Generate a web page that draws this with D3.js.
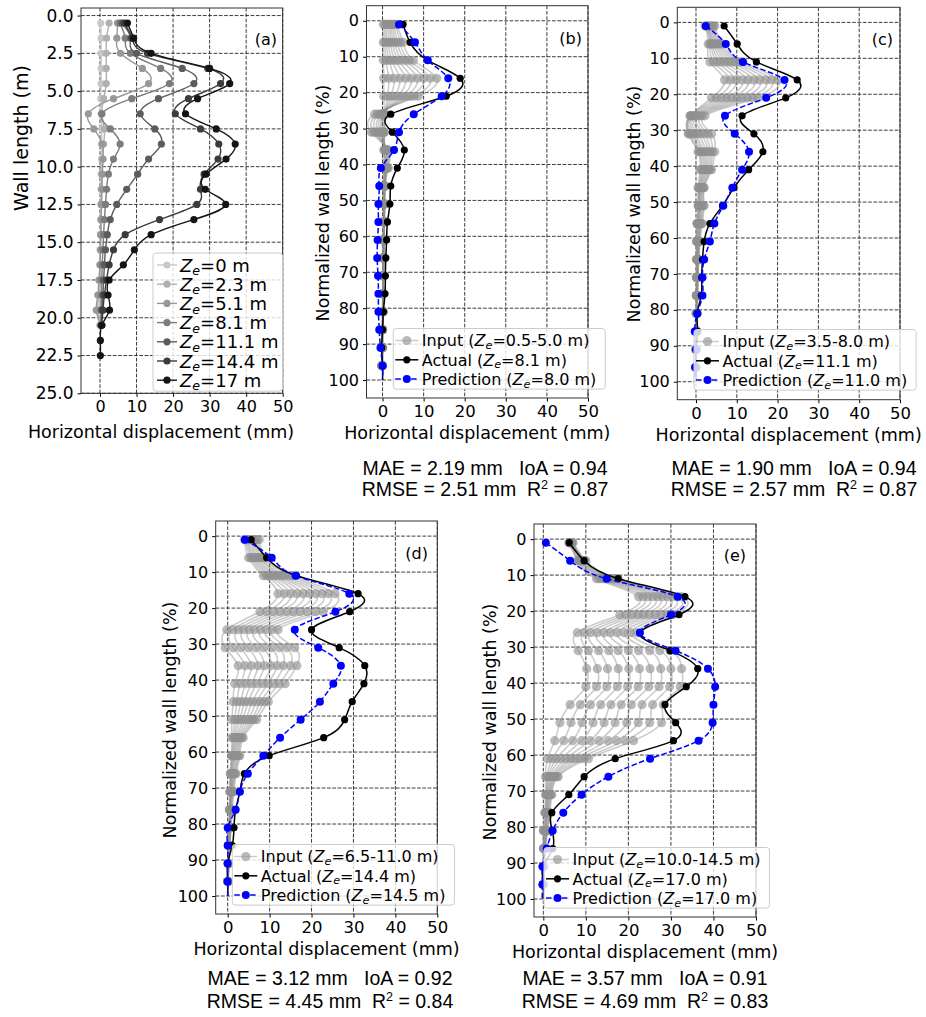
<!DOCTYPE html>
<html><head><meta charset="utf-8">
<script src="https://cdn.jsdelivr.net/npm/d3@7"></script>
<style>body{margin:0;background:#fff}svg{display:block}</style>
</head><body>
<svg id="chart" width="926" height="1017"></svg>
<script>
// ---------------- DATA ----------------
// Panel (a): wall depth (m) and displacement (mm) per excavation stage
const wallDepth = [0.5,1.5,2.5,3.5,4.5,5.5,6.5,7.5,8.5,9.5,10.5,11.5,12.5,13.5,14.5,15.5,16.5,17.5,18.5,19.5,20.5,21.5,22.5];
const stageZe = ["0","2.3","5.1","8.1","11.1","14.4","17"];
const dispZe0   = [0.2,0.3,0.3,0.3,0.3,0.2,0.3,0.5,0.4,0.4,0.3,0.3,0.2,0.2,0.2,0.1,0.1,0.0,0.0,0.0,0.0];
const dispZe2_3 = [2.5,1.8,1.7,1.7,1.7,1.0,0.5,1.2,1.0,0.8,0.6,0.5,0.4,0.3,0.2,0.1,0.0,-0.2,-0.4,-0.6,0.0];
const dispZe5_1 = [4.8,4.6,5.6,11.6,13.3,3.7,-3.2,-1.7,0.6,0.8,0.6,0.5,0.4,0.3,0.2,0.1,0.0,-0.3,-0.6,-1.0,0.2];
const dispZe8_1 = [5.4,6.9,8.3,16.6,19.0,8.7,0.5,2.8,5.5,3.7,2.3,1.8,1.5,1.2,1.0,0.8,0.6,0.5,0.4,0.3,0.3];
const dispZe11_1= [6.0,8.4,10.0,22.5,25.7,16.0,11.0,15.0,16.8,13.3,10.3,7.3,4.6,2.8,2.0,1.5,1.2,1.0,0.8,0.5,0.3];
const dispZe14_4= [6.6,8.8,13.0,29.5,33.0,24.2,20.6,27.5,32.5,32.3,28.5,27.5,26.5,16.3,6.9,3.7,2.5,1.8,1.2,0.8,0.5];
const dispZe17  = [7.5,9.2,14.0,30.0,35.5,26.7,23.4,31.8,37.0,34.5,29.0,28.8,34.4,25.7,14.0,9.4,6.4,2.5,2.2,2.6,0.5,0.1,0.1];
const aXTicks = [0,10,20,30,40,50];
const aYTicks = [0,2.5,5,7.5,10,12.5,15,17.5,20,22.5,25];

// Panels (b)-(e): normalized wall length (%)
const normLength = [1,6,11,16,21,26,31,36,41,46,51,56,61,66,71,76,81,86,91,96];
const tailLength = 100;               // curves of actual/prediction continue to the wall toe
const normXTicks = [0,10,20,30,40,50];
const normYTicks = [0,10,20,30,40,50,60,70,80,90,100];

const inputB = [
 [0.2,0.2,0.2,0.3,0.3,0.5,0.5,0.3,0.3,0.2,0.2,0.2,0.1,0.1,0.1,0.1,0.0,0.0,0.0,0.0],
 [0.6,0.6,0.8,1.5,1.2,0.6,0.4,0.5,0.4,0.3,0.3,0.2,0.2,0.1,0.1,0.1,0.0,0.0,0.0,0.0],
 [0.9,1.0,1.5,2.8,2.0,0.5,0.2,0.6,0.5,0.4,0.3,0.3,0.2,0.2,0.1,0.1,0.1,0.0,0.0,0.0],
 [1.3,1.5,2.2,4.2,2.9,0.3,-0.1,0.7,0.6,0.4,0.4,0.3,0.2,0.2,0.2,0.1,0.1,0.0,0.0,-0.1],
 [1.7,2.0,3.0,5.6,3.8,0.2,-0.4,0.8,0.7,0.5,0.4,0.3,0.3,0.2,0.2,0.1,0.1,0.0,0.0,-0.1],
 [2.0,2.5,3.8,7.0,4.8,0.0,-0.8,0.9,0.8,0.5,0.4,0.4,0.3,0.2,0.2,0.1,0.1,0.0,-0.1,-0.1],
 [2.4,3.0,4.7,8.5,5.7,-0.3,-1.2,1.0,0.9,0.5,0.5,0.4,0.3,0.3,0.2,0.2,0.1,0.0,-0.1,-0.2],
 [2.7,3.6,5.6,10.0,6.7,-0.8,-1.7,1.1,1.1,0.6,0.5,0.4,0.3,0.3,0.2,0.2,0.1,0.0,-0.1,-0.2],
 [3.1,4.3,6.5,11.6,7.7,-1.3,-2.2,1.3,1.2,0.6,0.5,0.4,0.4,0.3,0.2,0.2,0.1,0.0,-0.1,-0.2],
 [3.4,5.0,7.5,13.2,8.7,-1.9,-2.7,1.4,1.4,0.6,0.5,0.5,0.4,0.3,0.2,0.2,0.1,0.0,-0.1,-0.2]];
const actualB = [5.0,6.7,11.0,18.9,15.5,2.0,2.4,5.3,3.6,2.0,1.8,1.2,1.0,0.8,0.7,0.6,0.2,0.0,-0.2,0.0];
const predB   = [4.0,7.9,11.0,16.0,14.4,7.6,4.0,2.8,-0.4,-0.8,-1.0,-1.0,-1.2,-1.3,-1.1,-1.0,-1.0,-0.8,-0.5,0.0];

const inputC = [
 [2.2,3.0,3.4,7.0,3.8,-1.2,-1.9,0.5,1.0,0.5,0.5,0.2,0.1,0.1,0.1,0.1,0.0,0.0,0.0,0.0],
 [2.5,3.4,4.3,8.4,5.0,-1.5,-1.8,0.8,1.3,0.7,0.6,0.3,0.2,0.2,0.1,0.1,0.1,0.0,0.0,0.0],
 [2.7,3.7,5.2,9.8,6.2,-1.3,-1.4,1.2,1.6,0.8,0.7,0.4,0.3,0.2,0.2,0.1,0.1,0.0,0.0,0.0],
 [2.9,4.0,6.1,11.3,7.5,-1.0,-0.9,1.6,1.9,1.0,0.8,0.5,0.4,0.3,0.2,0.2,0.1,0.1,0.0,0.0],
 [3.2,4.3,7.0,12.7,8.7,-0.6,-0.3,2.0,2.2,1.1,1.0,0.7,0.5,0.4,0.3,0.2,0.2,0.1,0.0,0.0],
 [3.4,4.7,7.9,14.2,10.0,-0.2,0.4,2.5,2.5,1.3,1.1,0.8,0.6,0.4,0.3,0.3,0.2,0.1,0.1,0.0],
 [3.7,5.1,8.8,15.6,11.3,0.3,1.2,3.0,2.8,1.5,1.3,1.0,0.7,0.5,0.4,0.3,0.2,0.1,0.1,0.0],
 [4.0,5.5,9.7,17.1,12.6,0.9,2.0,3.5,3.2,1.7,1.5,1.1,0.8,0.6,0.4,0.3,0.2,0.2,0.1,0.0],
 [4.3,5.9,10.6,18.5,13.9,1.5,2.9,4.0,3.5,1.9,1.8,1.3,0.9,0.6,0.5,0.4,0.3,0.2,0.1,0.0],
 [4.6,6.3,11.5,20.0,15.2,2.2,3.8,4.6,3.8,2.0,2.0,1.5,1.0,0.7,0.5,0.4,0.3,0.2,0.1,0.0]];
const actualC = [6.9,10.1,14.8,24.8,22.0,11.3,14.2,16.4,12.9,9.3,6.5,3.4,2.0,1.6,1.4,1.3,0.3,0.4,0.0,0.0];
const predC   = [2.4,7.3,11.5,21.7,17.2,7.1,9.5,13.0,11.3,8.9,6.7,4.5,3.4,2.0,1.6,1.6,0.3,-0.3,0.0,-0.2];

const inputD = [
 [4.0,5.0,8.5,12.0,7.7,-0.2,-0.6,2.5,1.7,1.3,1.0,1.0,0.9,0.6,0.5,0.4,0.3,0.2,0.1,0.0],
 [4.3,5.5,9.2,13.5,9.3,1.2,1.3,4.1,3.0,2.2,1.7,1.3,1.0,0.7,0.6,0.5,0.3,0.2,0.1,0.0],
 [4.6,5.9,9.9,15.0,10.9,2.5,3.1,5.6,4.3,3.1,2.3,1.6,1.2,0.8,0.6,0.5,0.4,0.3,0.1,0.0],
 [4.9,6.3,10.6,16.5,12.5,3.8,4.9,7.2,5.6,4.0,2.9,1.9,1.4,0.9,0.7,0.5,0.4,0.3,0.2,0.0],
 [5.3,6.8,11.3,18.0,14.1,5.1,6.7,8.7,6.9,4.9,3.6,2.2,1.6,1.1,0.8,0.6,0.5,0.3,0.2,0.0],
 [5.7,7.2,12.0,19.5,15.7,6.4,8.5,10.3,8.3,5.9,4.3,2.5,1.8,1.2,0.9,0.6,0.5,0.4,0.2,0.1],
 [6.1,7.7,12.8,21.0,17.3,7.8,10.4,11.8,9.6,6.9,5.0,2.8,2.1,1.4,1.0,0.7,0.6,0.4,0.2,0.1],
 [6.5,8.1,13.6,22.5,19.0,9.2,12.3,13.3,11.0,7.9,5.7,3.1,2.4,1.6,1.1,0.8,0.6,0.4,0.2,0.1],
 [7.0,8.6,14.6,24.0,21.0,10.6,14.1,15.0,12.3,8.8,6.3,3.4,2.6,1.8,1.3,0.9,0.7,0.5,0.3,0.1],
 [7.5,9.0,15.6,25.6,22.8,12.0,16.0,16.5,13.7,9.7,6.9,3.7,2.9,2.0,1.5,1.0,0.8,0.5,0.3,0.1]];
const actualD = [5.6,9.3,16.4,31.1,29.1,20.0,26.6,32.7,32.5,29.7,27.9,22.9,9.9,4.0,2.9,1.9,1.5,1.1,0.0,0.0];
const predD   = [4.1,10.5,16.2,29.0,25.7,16.0,21.6,27.0,25.2,22.0,17.4,12.5,8.5,4.8,2.9,1.9,0.0,0.0,0.0,0.0];

const inputE = [
 [6.0,8.0,12.5,22.4,18.0,8.0,8.2,10.2,10.0,6.3,3.9,2.7,1.0,0.5,0.5,0.3,0.0,0.0,0.0,0.0],
 [6.1,8.2,13.1,23.5,19.4,9.6,10.6,12.7,12.5,8.7,6.5,4.8,2.1,0.9,0.7,0.5,0.1,0.1,0.0,0.0],
 [6.2,8.4,13.7,24.6,20.8,11.1,13.0,15.1,14.9,11.1,9.1,6.9,3.1,1.2,0.8,0.6,0.2,0.1,0.0,0.0],
 [6.3,8.7,14.3,25.8,22.2,12.7,15.4,17.6,17.4,13.5,11.7,9.0,4.2,1.5,1.0,0.7,0.4,0.2,0.1,0.0],
 [6.4,8.9,14.8,26.9,23.5,14.3,17.6,20.1,19.8,15.9,14.3,11.0,5.3,1.9,1.1,0.8,0.5,0.2,0.1,0.0],
 [6.5,9.1,15.3,28.0,24.9,15.8,20.0,22.6,22.3,18.3,16.9,13.1,6.4,2.2,1.3,0.9,0.6,0.3,0.1,0.0],
 [6.6,9.3,15.9,29.2,26.3,17.4,22.4,25.1,24.8,20.7,19.6,15.2,7.4,2.5,1.5,1.0,0.7,0.3,0.2,0.0],
 [6.7,9.5,16.5,30.3,27.7,19.0,25.0,27.6,27.2,23.2,22.3,17.2,8.5,2.8,1.6,1.2,0.8,0.4,0.2,0.0],
 [6.8,9.8,17.0,31.4,29.1,20.5,27.4,30.0,29.7,25.7,25.0,19.2,9.6,3.2,1.8,1.3,0.9,0.4,0.2,0.0],
 [7.0,10.0,17.6,32.5,30.5,22.0,29.8,32.5,32.2,28.2,27.8,21.2,10.6,3.5,2.0,1.5,1.0,0.5,0.3,0.0]];
const actualE = [6.1,9.6,17.6,33.3,31.9,22.7,29.8,36.3,33.6,28.6,31.1,30.6,16.9,9.6,6.0,2.0,2.1,2.2,0.0,0.0];
const predE   = [0.6,6.3,14.9,31.6,30.0,22.7,31.1,38.7,40.4,40.0,39.8,36.5,25.1,15.3,9.0,4.7,2.2,0.8,-0.2,-0.2];

// displacement where the actual / predicted curves end at 100 % (no marker there)
const actualTail = [0.0,0.0,0.0,0.0];
const predTail   = [0.0,-0.2,0.0,-0.3];

const panelTags   = ["(b)","(c)","(d)","(e)"];
const inputRanges = ["0.5-5.0","3.5-8.0","6.5-11.0","10.0-14.5"];
const actualZe    = ["8.1","11.1","14.4","17.0"];
const predZe      = ["8.0","11.0","14.5","17.0"];
const maeVals  = ["2.19","1.90","3.12","3.57"];
const ioaVals  = ["0.94","0.94","0.92","0.91"];
const rmseVals = ["2.51","2.57","4.45","4.69"];
const r2Vals   = ["0.87","0.87","0.84","0.83"];

// ---------------- LAYOUT / STYLE ----------------
const FONT = "DejaVu Sans, sans-serif";
const ARIAL = "Liberation Sans, Arial, sans-serif";
const stageColors = ["#c8c8c8","#b0b0b0","#989898","#7c7c7c","#5c5c5c","#3c3c3c","#141414"];
const INPUT_GRAY = "#8f8f8f";
const layA = {left:81, right:282.7, top:8, bottom:393.3, xmin:-5.2, ymin:-0.5, ymax:25,
  tag:[277,45], xtitle:[161,438], ytitle:[21.5,138], legend:{x:153, y0:265, dy:19.2}};
const layN = [
 {left:366.5, right:588, top:5.7, bottom:398, xmin:-3.9, tag:[582,44], ytitle:[322.5,203], leg:{x:393.3,y0:340.5}, met:[485,475,496]},
 {left:677.3, right:900, top:7.3, bottom:399.7, xmin:-4.58, tag:[893,45], ytitle:[633.5,204], leg:{x:694,y0:341.5}, met:[794,475,496]},
 {left:215.7, right:437.3, top:521, bottom:914, xmin:-2.86, tag:[428,559], ytitle:[170,720], leg:{x:232.3,y0:856.5}, met:[330,985,1008]},
 {left:534, right:756, top:524, bottom:917, xmin:-2.19, tag:[746,561], ytitle:[490,722], leg:{x:544,y0:859.5}, met:[645,985,1008]}
];

const svg = d3.select("#chart");

function drawGridFrameAxes(g, x, y, L, xt, yt, yfmt, yfs, xfs) {
  const grid = g.append("g").attr("stroke","#000").attr("stroke-width",0.9)
    .attr("stroke-dasharray","3.7,1.6").attr("opacity",0.85);
  grid.selectAll("line.gx").data(xt).join("line").attr("class","gx")
    .attr("x1",d=>x(d)).attr("x2",d=>x(d)).attr("y1",L.top).attr("y2",L.bottom);
  grid.selectAll("line.gy").data(yt).join("line").attr("class","gy")
    .attr("x1",L.left).attr("x2",L.right).attr("y1",d=>y(d)).attr("y2",d=>y(d));
  const ax = g.append("g").attr("transform",`translate(0,${L.bottom})`)
    .call(d3.axisBottom(x).tickValues(xt).tickSize(3.5).tickPadding(4).tickFormat(d3.format("d")));
  ax.attr("font-family",FONT).attr("font-size",xfs);
  ax.select(".domain").remove();
  ax.selectAll("text").attr("fill","#000");
  ax.selectAll("line").attr("stroke","#000");
  const ay = g.append("g").attr("transform",`translate(${L.left},0)`)
    .call(d3.axisLeft(y).tickValues(yt).tickSize(3.5).tickPadding(4).tickFormat(yfmt));
  ay.attr("font-family",FONT).attr("font-size",yfs);
  ay.select(".domain").remove();
  ay.selectAll("text").attr("fill","#000");
  ay.selectAll("line").attr("stroke","#000");
}
function drawFrame(g, L) {
  g.append("rect").attr("x",L.left).attr("y",L.top).attr("width",L.right-L.left)
    .attr("height",L.bottom-L.top).attr("fill","none").attr("stroke","#333").attr("stroke-width",1);
}
function zeText(t, fs, pre, post, sh) {
  t.append("tspan").text(pre);
  t.append("tspan").attr("font-style","italic").text("Z");
  t.append("tspan").attr("font-style","italic").attr("font-size",fs*0.7).attr("dy",fs*sh).text("e");
  t.append("tspan").attr("dy",-fs*sh).text(post);
}

// ---------------- PANEL (a) ----------------
(function(){
  const L = layA;
  const g = svg.append("g");
  const x = d3.scaleLinear().domain([L.xmin,50]).range([L.left,L.right]);
  const y = d3.scaleLinear().domain([L.ymin,L.ymax]).range([L.top,L.bottom]);
  drawGridFrameAxes(g,x,y,L,aXTicks,aYTicks,d3.format(".1f"),17,16);
  const series = [dispZe0,dispZe2_3,dispZe5_1,dispZe8_1,dispZe11_1,dispZe14_4,dispZe17];
  const line = d3.line().x(d=>x(d[0])).y(d=>y(d[1])).curve(d3.curveNatural);
  series.forEach((s,i)=>{
    const pts = s.map((v,j)=>[v,wallDepth[j]]);
    g.append("path").attr("d",line(pts)).attr("fill","none").attr("stroke",stageColors[i]).attr("stroke-width",1.4);
    g.append("g").selectAll("circle").data(pts).join("circle")
      .attr("cx",d=>x(d[0])).attr("cy",d=>y(d[1])).attr("r",3.6).attr("fill",stageColors[i]);
  });
  drawFrame(g,L);
  // legend
  const lg = L.legend, fs = 18;
  const box = g.append("rect");
  let maxW = 0;
  stageZe.forEach((z,i)=>{
    const yy = lg.y0 + i*lg.dy;
    g.append("line").attr("x1",lg.x+4).attr("x2",lg.x+24).attr("y1",yy).attr("y2",yy)
      .attr("stroke",stageColors[i]).attr("stroke-width",1.4);
    g.append("circle").attr("cx",lg.x+14).attr("cy",yy).attr("r",3.6).attr("fill",stageColors[i]);
    const t = g.append("text").attr("x",lg.x+27).attr("y",yy+6.5).attr("font-family",FONT).attr("font-size",fs);
    zeText(t,fs,"",`=${z} m`,0.2);
    maxW = Math.max(maxW, t.node().getComputedTextLength());
  });
  box.attr("x",lg.x).attr("y",lg.y0-12).attr("width",27+maxW+4)
    .attr("height",lg.dy*6+23).attr("rx",3).attr("fill","#fff").attr("fill-opacity",0.8)
    .attr("stroke","#cccccc");
  g.append("text").attr("x",L.tag[0]).attr("y",L.tag[1]).attr("text-anchor","end")
    .attr("font-family",FONT).attr("font-size",16).text("(a)");
  g.append("text").attr("x",L.xtitle[0]).attr("y",L.xtitle[1]).attr("text-anchor","middle")
    .attr("font-family",FONT).attr("font-size",17.5).text("Horizontal displacement (mm)");
  g.append("text").attr("transform",`translate(${L.ytitle[0]},${L.ytitle[1]}) rotate(-90)`)
    .attr("text-anchor","middle").attr("dy","0.35em")
    .attr("font-family",FONT).attr("font-size",19).text("Wall length (m)");
})();

// ---------------- PANELS (b)-(e) ----------------
const inputs = [inputB,inputC,inputD,inputE];
const actuals = [actualB,actualC,actualD,actualE];
const preds = [predB,predC,predD,predE];

layN.forEach((L,k)=>{
  const g = svg.append("g");
  const x = d3.scaleLinear().domain([L.xmin,50]).range([L.left,L.right]);
  const y = d3.scaleLinear().domain([-4.2,105]).range([L.top,L.bottom]);
  drawGridFrameAxes(g,x,y,L,normXTicks,normYTicks,d3.format("d"),16,16.5);
  const line = d3.line().x(d=>x(d[0])).y(d=>y(d[1])).curve(d3.curveNatural);
  inputs[k].forEach(s=>{
    const pts = s.map((v,j)=>[v,normLength[j]]);
    g.append("path").attr("d",line(pts)).attr("fill","none").attr("stroke",INPUT_GRAY)
      .attr("stroke-opacity",0.45).attr("stroke-width",1.6);
    g.append("g").selectAll("circle").data(pts).join("circle")
      .attr("cx",d=>x(d[0])).attr("cy",d=>y(d[1])).attr("r",4.6)
      .attr("fill",INPUT_GRAY).attr("fill-opacity",0.62);
  });
  const apts = actuals[k].map((v,j)=>[v,normLength[j]]);
  g.append("path").attr("d",line(apts.concat([[actualTail[k],tailLength]])))
    .attr("fill","none").attr("stroke","#000").attr("stroke-width",1.5);
  g.append("g").selectAll("circle").data(apts).join("circle")
    .attr("cx",d=>x(d[0])).attr("cy",d=>y(d[1])).attr("r",3.6).attr("fill","#000");
  const ppts = preds[k].map((v,j)=>[v,normLength[j]]);
  g.append("path").attr("d",line(ppts.concat([[predTail[k],tailLength]])))
    .attr("fill","none").attr("stroke","#0000ff")
    .attr("stroke-width",1.5).attr("stroke-dasharray","5.5,2.4");
  g.append("g").selectAll("circle").data(ppts).join("circle")
    .attr("cx",d=>x(d[0])).attr("cy",d=>y(d[1])).attr("r",4).attr("fill","#0000ff");
  drawFrame(g,L);

  // legend
  const fs = 16, dy = 19.3, lx = L.leg.x, y0 = L.leg.y0;
  const lgBox = g.append("rect");
  const items = [
    {pre:"Input (", post:`=${inputRanges[k]} m)`, kind:"input"},
    {pre:"Actual (", post:`=${actualZe[k]} m)`, kind:"actual"},
    {pre:"Prediction (", post:`=${predZe[k]} m)`, kind:"pred"}];
  let maxW = 0;
  items.forEach((it,i)=>{
    const yy = y0 + i*dy;
    const ln = g.append("line").attr("x1",lx+2).attr("x2",lx+25).attr("y1",yy).attr("y2",yy).attr("stroke-width",1.5);
    const c = g.append("circle").attr("cx",lx+13.5).attr("cy",yy);
    if (it.kind==="input") {
      ln.attr("stroke",INPUT_GRAY).attr("stroke-opacity",0.45);
      c.attr("r",4.6).attr("fill",INPUT_GRAY).attr("fill-opacity",0.62);
    } else if (it.kind==="actual") {
      ln.attr("stroke","#000"); c.attr("r",3.6).attr("fill","#000");
    } else {
      ln.attr("stroke","#0000ff").attr("stroke-dasharray","5.5,2.4"); c.attr("r",4).attr("fill","#0000ff");
    }
    const t = g.append("text").attr("x",lx+28.5).attr("y",yy+5.8).attr("font-family",FONT).attr("font-size",fs);
    zeText(t,fs,it.pre,it.post,0.18);
    maxW = Math.max(maxW, t.node().getComputedTextLength());
  });
  lgBox.attr("x",lx).attr("y",y0-12).attr("width",28.5+maxW+9).attr("height",dy*2+22)
    .attr("rx",3).attr("fill","#fff").attr("fill-opacity",0.8).attr("stroke","#cccccc");

  g.append("text").attr("x",L.tag[0]).attr("y",L.tag[1]).attr("text-anchor","end")
    .attr("font-family",FONT).attr("font-size",16).text(panelTags[k]);
  g.append("text").attr("x",(L.left+L.right)/2).attr("y",L.bottom+41).attr("text-anchor","middle")
    .attr("font-family",FONT).attr("font-size",17.5).text("Horizontal displacement (mm)");
  g.append("text").attr("transform",`translate(${L.ytitle[0]},${L.ytitle[1]}) rotate(-90)`)
    .attr("text-anchor","middle").attr("dy","0.35em")
    .attr("font-family",FONT).attr("font-size",17.5).text("Normalized wall length (%)");

  // metrics
  const [mx,b1,b2] = L.met;
  g.append("text").attr("x",mx).attr("y",b1).attr("text-anchor","middle").attr("style","white-space:pre")
    .attr("font-family",ARIAL).attr("font-size",19.5)
    .text(`MAE = ${maeVals[k]} mm   IoA = ${ioaVals[k]}`);
  const t2 = g.append("text").attr("x",mx).attr("y",b2).attr("text-anchor","middle").attr("style","white-space:pre")
    .attr("font-family",ARIAL).attr("font-size",19.5);
  t2.append("tspan").text(`RMSE = ${rmseVals[k]} mm  R`);
  t2.append("tspan").attr("font-size",12.5).attr("dy",-7).text("2");
  t2.append("tspan").attr("dy",7).text(` = ${r2Vals[k]}`);
});
</script>
</body></html>
